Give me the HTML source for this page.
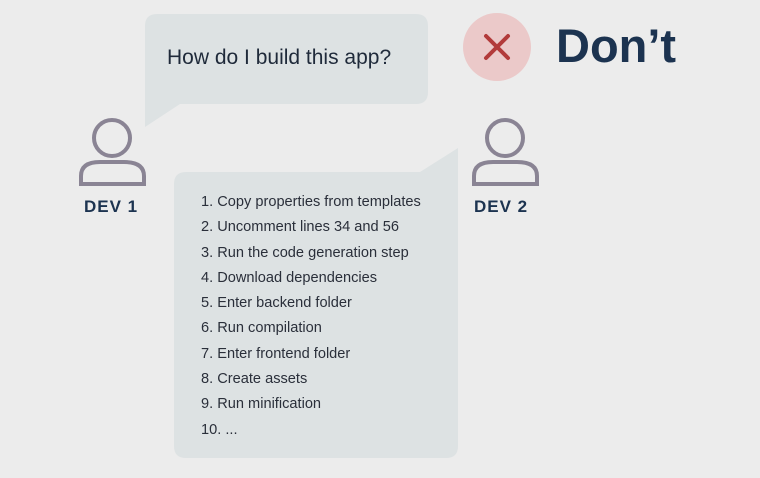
<!DOCTYPE html>
<html><head><style>
body{margin:0;width:760px;height:478px;background:#ececec;font-family:"Liberation Sans",sans-serif;position:relative;overflow:hidden}
.t{position:absolute;white-space:nowrap}
ol{position:absolute;left:201px;top:193px;margin:0;padding:0;list-style:none;font-size:14.6px;color:#2a2f3a}
ol li{height:25.3px;line-height:18px}
</style></head><body>
<svg width="760" height="478" style="position:absolute;left:0;top:0">
<path d="M157 14 H416 Q428 14 428 26 V92 Q428 104 416 104 H180 L145 127 V26 Q145 14 157 14Z" fill="#dde2e3"/>
<path d="M186 172 H420 L458 148 V446 Q458 458 446 458 H186 Q174 458 174 446 V184 Q174 172 186 172Z" fill="#dde2e3"/>
<g fill="none" stroke="#8a8494" stroke-width="4">
<circle cx="112" cy="138" r="18"/>
<path d="M81 184 V176 Q81 162 100 162 H124 Q144 162 144 176 V184 Z"/>
<circle cx="505" cy="138" r="18"/>
<path d="M474 184 V176 Q474 162 493 162 H517 Q537 162 537 176 V184 Z"/>
</g>
<circle cx="497" cy="47" r="34" fill="#ebc9c9"/>
<path d="M486 36 L508 58 M508 36 L486 58" stroke="#b23a3a" stroke-width="4" stroke-linecap="round"/>
</svg>
<div class="t" style="left:167px;top:46px;font-size:21px;color:#1f2a3a">How do I build this app?</div>
<div class="t" style="left:84px;top:197px;font-size:17px;font-weight:bold;color:#1c3350;letter-spacing:1px">DEV 1</div>
<div class="t" style="left:474px;top:197px;font-size:17px;font-weight:bold;color:#1c3350;letter-spacing:1px">DEV 2</div>
<div class="t" style="left:556px;top:18px;font-size:47px;font-weight:bold;color:#1c3350">Don’t</div>
<ol>
<li>1. Copy properties from templates</li>
<li>2. Uncomment lines 34 and 56</li>
<li>3. Run the code generation step</li>
<li>4. Download dependencies</li>
<li>5. Enter backend folder</li>
<li>6. Run compilation</li>
<li>7. Enter frontend folder</li>
<li>8. Create assets</li>
<li>9. Run minification</li>
<li>10. ...</li>
</ol>
</body></html>
